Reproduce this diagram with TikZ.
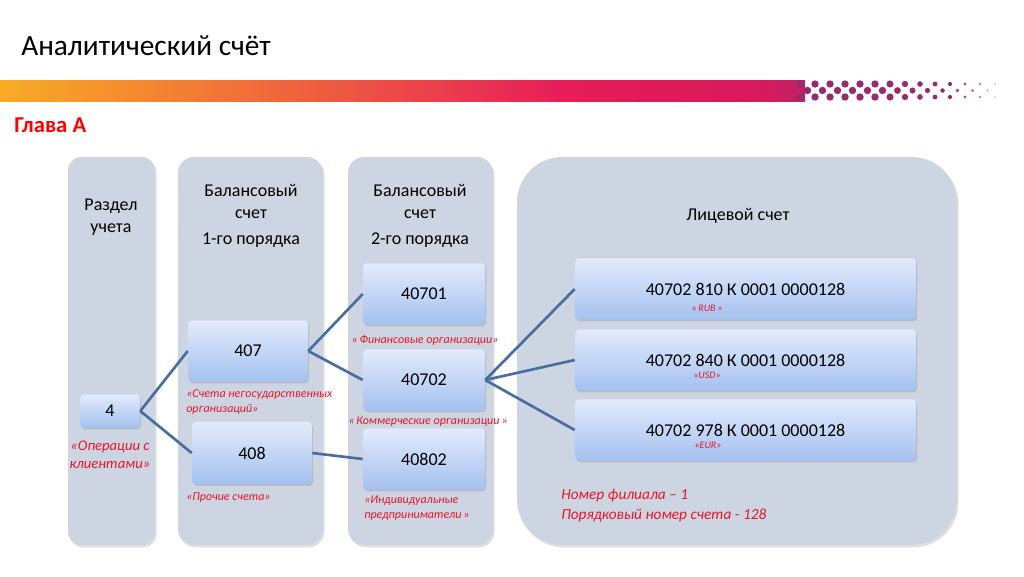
\documentclass[tikz,border=0pt]{standalone}
\usepackage{fontspec}
\setmainfont{Carlito}
\usetikzlibrary{shadows}
\definecolor{colfill}{RGB}{206,213,226}
\definecolor{boxtop}{RGB}{226,235,252}
\definecolor{boxbot}{RGB}{164,193,240}
\definecolor{linkc}{RGB}{72,110,160}
\definecolor{redt}{RGB}{228,22,40}
\definecolor{gA}{RGB}{248,172,38}
\definecolor{gB}{RGB}{242,122,52}
\definecolor{gC}{RGB}{236,72,72}
\definecolor{gD}{RGB}{232,28,90}
\definecolor{gE}{RGB}{214,26,92}
\definecolor{gF}{RGB}{190,34,100}
\definecolor{dotc}{RGB}{150,44,112}
\pgfdeclarehorizontalshading{barshade}{100bp}{color(0bp)=(gA); color(25bp)=(gA); color(37.5bp)=(gB); color(50bp)=(gC); color(60bp)=(gD); color(72.5bp)=(gE); color(75bp)=(gF); color(100bp)=(gF)}
\begin{document}
\begin{tikzpicture}[x=0.75pt,y=-0.75pt,
  column/.style={fill=colfill, drop shadow={opacity=0.25,shadow xshift=1.2pt,shadow yshift=-1.8pt}},
  acct/.style={top color=boxtop, bottom color=boxbot, rounded corners=3pt, inner sep=0pt,
     drop shadow={opacity=0.3,shadow xshift=0.8pt,shadow yshift=-1.2pt},
     font=\fontsize{13.5}{16}\selectfont},
  head/.style={align=center, font=\fontsize{13.5}{16.5}\selectfont, inner sep=0pt},
  note/.style={text=redt, font=\fontsize{9}{11}\selectfont\itshape, inner sep=0pt},
  link/.style={draw=linkc, line width=2pt}
]
\useasboundingbox (0,0) rectangle (1024,576);
% title
\node[anchor=west, inner sep=0pt, font=\fontsize{22}{26}\selectfont] (title) at (21,46) {Аналитический счёт};
% gradient bar
\shade[shading=barshade] (0,80) rectangle (805,101);
\foreach \i in {0,...,26}{
  \pgfmathsetmacro\xx{800+\i*7.5}
  \pgfmathsetmacro\rr{\xx<885 ? 3.7 : max(0.8,3.7-(\xx-885)*0.025)}
  \pgfmathsetmacro\op{\xx<950 ? 1 : max(0.35,1-(\xx-950)*0.013)}
  \ifodd\i
    \fill[dotc, opacity=\op] (\xx,90.5) circle[radius=\rr];
  \else
    \fill[dotc, opacity=\op] (\xx,84) circle[radius=\rr];
    \fill[dotc, opacity=\op] (\xx,97) circle[radius=\rr];
  \fi
}
\node[anchor=west, inner sep=0pt, text=red, font=\fontsize{17}{20}\selectfont\bfseries] (glava) at (14,125) {Глава А};
% columns
\fill[column, rounded corners=10pt] (68,157) rectangle (155,545);
\fill[column, rounded corners=12pt] (178,157) rectangle (323,545);
\fill[column, rounded corners=12pt] (348,157) rectangle (493,545);
\fill[column, rounded corners=34pt] (517,157) rectangle (957,545);
% headers
\node[head] (h1) at (111,217) {Раздел\\учета};
\node[head] (h2) at (251,216) {Балансовый\\счет\\[3pt]1-го порядка};
\node[head] (h3) at (420,216) {Балансовый\\счет\\[3pt]2-го порядка};
\node[head] (h4) at (738,216) {Лицевой счет};
% account boxes
\node[acct, minimum width=45pt, minimum height=25pt] (b4) at (110,411) {4};
\node[acct, minimum width=90pt, minimum height=46pt] (b407) at (248,351) {407};
\node[acct, minimum width=90pt, minimum height=47pt] (b408) at (252,453) {408};
\node[acct, minimum width=91.5pt, minimum height=46pt] (b40701) at (424,294) {40701};
\node[acct, minimum width=91.5pt, minimum height=46pt] (b40702) at (424,380) {40702};
\node[acct, minimum width=91.5pt, minimum height=46pt] (b40802) at (424,459) {40802};
\node[acct, minimum width=255.75pt, minimum height=46pt] (r1) at (745.5,289) {40702 810 К 0001 0000128};
\node[acct, minimum width=255.75pt, minimum height=46pt] (r2) at (745.5,360) {40702 840 К 0001 0000128};
\node[acct, minimum width=255.75pt, minimum height=46pt] (r3) at (745.5,430) {40702 978 К 0001 0000128};
% connectors
\draw[link] (b4.east) -- (b407.west);
\draw[link] (b4.east) -- (b408.west);
\draw[link] (b407.east) -- (b40701.west);
\draw[link] (b407.east) -- (b40702.west);
\draw[link] (b408.east) -- (b40802.west);
\draw[link] (b40702.east) -- (r1.west);
\draw[link] (b40702.east) -- (r2.west);
\draw[link] (b40702.east) -- (r3.west);
% red notes
\node[note, align=center, font=\fontsize{11}{13.5}\selectfont\itshape] (n4) at (110,455) {«Операции с\\клиентами»};
\node[note, align=left, anchor=west] (n407) at (186,402) {«Счета негосударственных\\организаций»};
\node[note, anchor=west] (n408) at (186,498) {«Прочие счета»};
\node[note] (n40701) at (425,340) {«\,Финансовые организации»};
\node[note] (n40702) at (428,422) {«\,Коммерческие организации\,»};
\node[note, align=left, anchor=west] (n40802) at (364,508) {«Индивидуальные\\предприниматели\,»};
\node[note, font=\fontsize{7.5}{9}\selectfont\itshape] (nr1) at (707,308) {«\,RUB\,»};
\node[note, font=\fontsize{7.5}{9}\selectfont\itshape] (nr2) at (707,375) {«USD»};
\node[note, font=\fontsize{7.5}{9}\selectfont\itshape] (nr3) at (708,445) {«EUR»};
\node[note, align=left, anchor=west, font=\fontsize{11.5}{15}\selectfont\itshape] (nfil) at (561,506) {Номер филиала – 1\\Порядковый номер счета - 128};
\end{tikzpicture}
\end{document}
